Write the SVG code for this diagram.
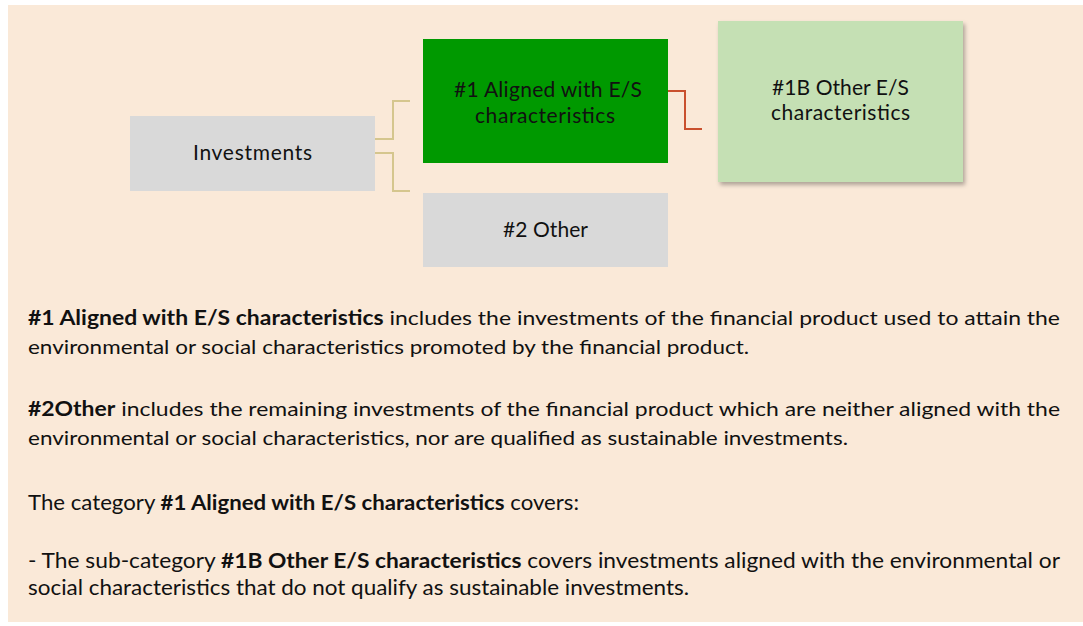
<svg xmlns="http://www.w3.org/2000/svg" width="1083" height="626" viewBox="0 0 1083 626">
<defs>
<filter id="shadow" x="-10%" y="-10%" width="125%" height="130%">
<feDropShadow dx="2" dy="3" stdDeviation="2" flood-color="#000" flood-opacity="0.3"/>
</filter>
</defs>
<style>
.lbl{font-family:Lato,"Open Sans",sans-serif;font-size:21px;fill:#111;text-anchor:middle}
.p{font-family:Lato,"Open Sans",sans-serif;font-size:20px;fill:#111}
.q{font-family:Lato,"Open Sans",sans-serif;font-size:21px;fill:#111}
.b{font-weight:bold}
.tan{fill:none;stroke:#D5C68E;stroke-width:2}
.red{fill:none;stroke:#C9502E;stroke-width:2}
</style>
<rect x="8" y="5" width="1075" height="617" fill="#FAE9D8"/>
<g id="connectors">
<polyline class="tan" points="375,139 393,139 393,101 410,101"/>
<polyline class="tan" points="375,153 393,153 393,191 410,191"/>
<polyline class="red" points="668,91 685,91 685,129 702,129"/>
</g>
<g id="investments">
<rect x="130" y="116" width="245" height="75" fill="#D9D9D9"/>
<text class="lbl" x="252.5" y="160" textLength="119">Investments</text>
</g>
<g id="aligned">
<rect x="423" y="39" width="245" height="124" fill="#009900"/>
<text class="lbl" x="548" y="97" textLength="188">#1 Aligned with E/S</text>
<text class="lbl" x="545" y="123" textLength="140">characteristics</text>
</g>
<g id="other-es">
<rect x="718" y="21" width="245" height="161" fill="#C5E0B4" filter="url(#shadow)"/>
<text class="lbl" x="840.5" y="95" textLength="137">#1B Other E/S</text>
<text class="lbl" x="840.5" y="120" textLength="139">characteristics</text>
</g>
<g id="other">
<rect x="423" y="193" width="245" height="74" fill="#D9D9D9"/>
<text class="lbl" x="545.5" y="237" textLength="85">#2 Other</text>
</g>
<g id="text">
<text class="p" x="28" y="325" textLength="1032" lengthAdjust="spacingAndGlyphs"><tspan class="b">#1 Aligned with E/S characteristics</tspan> includes the investments of the financial product used to attain the</text>
<text class="p" x="28" y="354" textLength="721" lengthAdjust="spacingAndGlyphs">environmental or social characteristics promoted by the financial product.</text>
<text class="p" x="28" y="416" textLength="1032" lengthAdjust="spacingAndGlyphs"><tspan class="b">#2Other</tspan> includes the remaining investments of the financial product which are neither aligned with the</text>
<text class="p" x="28" y="445" textLength="820" lengthAdjust="spacingAndGlyphs">environmental or social characteristics, nor are qualified as sustainable investments.</text>
<text class="q" x="28" y="510" textLength="551" lengthAdjust="spacingAndGlyphs">The category <tspan class="b">#1 Aligned with E/S characteristics</tspan> covers:</text>
<text class="q" x="28" y="568" textLength="1032" lengthAdjust="spacingAndGlyphs">- The sub-category <tspan class="b">#1B Other E/S characteristics</tspan> covers investments aligned with the environmental or</text>
<text class="q" x="28" y="595" textLength="661" lengthAdjust="spacingAndGlyphs">social characteristics that do not qualify as sustainable investments.</text>
</g>
</svg>
